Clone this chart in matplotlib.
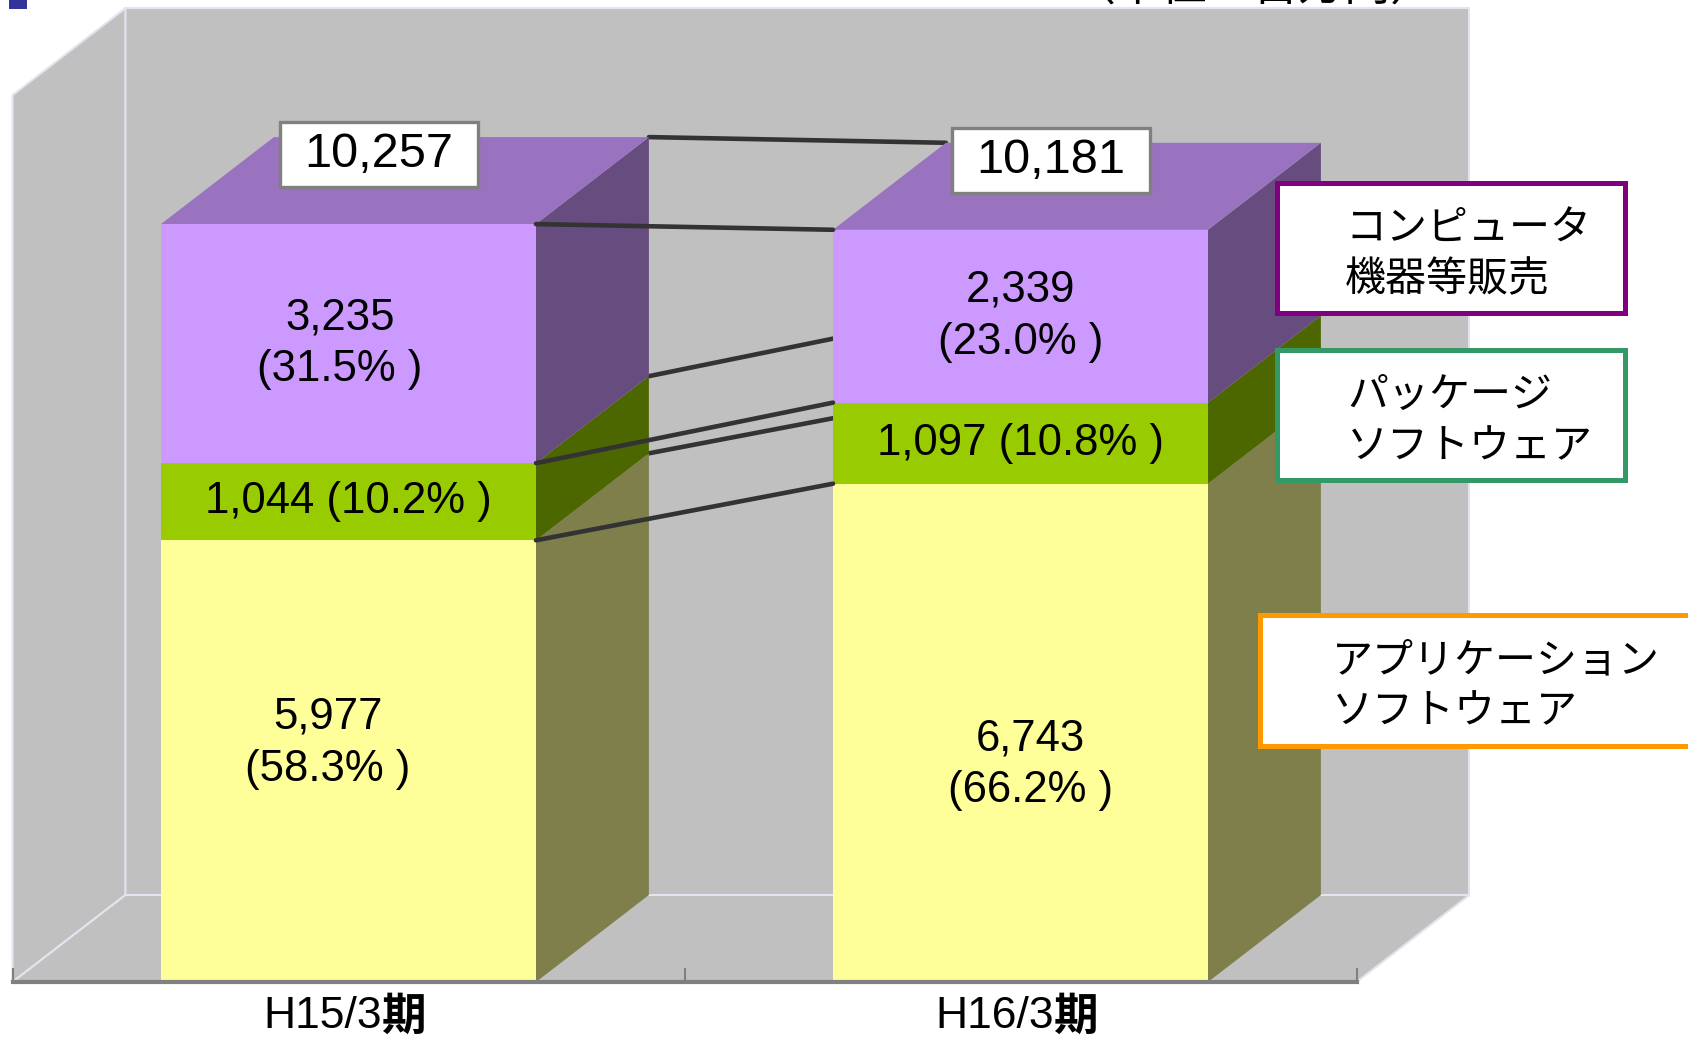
import numpy as np
import matplotlib.pyplot as plt
from matplotlib.patches import Polygon, Rectangle
from matplotlib.path import Path

# data (百万円)
periods = ['H15/3期', 'H16/3期']
series = ['アプリケーション\nソフトウェア', 'パッケージ\nソフトウェア', 'コンピュータ\n機器等販売']
app_sw = [5977, 6743]
pkg_sw = [1044, 1097]
hw_sales = [3235, 2339]
app_share = [58.3, 66.2]
pkg_share = [10.2, 10.8]
hw_share = [31.5, 23.0]
totals = [10257, 10181]
y_max = 12000
unit_note = '（単位：百万円）'

# layout of the fake 3d box (pixels of the 1688x1038 canvas)
W, H = 1688, 1038
PX_CAT, X0_PX = 672.0, 348.5     # px per category, px of first category
PX_VAL, Y0_PX = 0.0739, 982.0    # px per value unit, px row of value 0
BAR_W = 0.558
DX, DY = 0.168, 1177             # depth offset in data units

front_c = ['#FFFF99', '#99CC00', '#CC99FF']
side_c = ['#7F7F4C', '#4C6600', '#664C7F']
top_c = ['#BFBF73', '#739900', '#9973BF']
legend_edge = ['#FF9900', '#339966', '#800080']
wall_c = '#C0C0C0'
edge_c = '#E4E4F0'
line_c = '#333333'

num_font = ['Liberation Sans', 'Noto Sans CJK JP']
jp_font = ['Noto Sans CJK JP', 'DejaVu Sans']

fig = plt.figure(figsize=(W / 100, H / 100), dpi=100)
ax = fig.add_axes([0, 0, 1, 1])
ax.set_xlim(-X0_PX / PX_CAT, (W - X0_PX) / PX_CAT)
ax.set_ylim((Y0_PX - H) / PX_VAL, Y0_PX / PX_VAL)
ax.axis('off')


def P(x, v, z):
    return (x + z * DX, v + z * DY)


def quad(pts, color, z, ec='none', lw=0):
    ax.add_patch(Polygon(pts, closed=True, facecolor=color, edgecolor=ec, lw=lw, zorder=z))


def wide_box(x0, y0, width, height, mutation_size):
    # box with more room left/right than top/bottom
    px, py = 0.5 * mutation_size, 0.2 * mutation_size
    x0, y0 = x0 - px, y0 - py
    x1, y1 = x0 + width + 2 * px, y0 + height + 2 * py
    return Path([(x0, y0), (x1, y0), (x1, y1), (x0, y1), (x0, y0)], closed=True)


# walls and floor
x_lo, x_hi = -0.5, len(periods) - 0.5
quad([P(x_lo, 0, 1), P(x_hi, 0, 1), P(x_hi, y_max, 1), P(x_lo, y_max, 1)], wall_c, 1, edge_c, 1.5)
quad([P(x_lo, 0, 0), P(x_lo, y_max, 0), P(x_lo, y_max, 1), P(x_lo, 0, 1)], wall_c, 1, edge_c, 1.5)
quad([P(x_lo, 0, 0), P(x_hi, 0, 0), P(x_hi, 0, 1), P(x_lo, 0, 1)], wall_c, 1, edge_c, 1.5)

stacks = [app_sw, pkg_sw, hw_sales]
shares = [app_share, pkg_share, hw_share]
cum = np.cumsum(np.array(stacks), axis=0)
base = cum - np.array(stacks)
xs = np.arange(len(periods))

# series lines at the back (hidden by the second bar)
for k in range(len(stacks)):
    a = P(xs[0] + BAR_W / 2, cum[k][0], 1)
    b = P(xs[1] - BAR_W / 2, cum[k][1], 1)
    ax.plot([a[0], b[0]], [a[1], b[1]], color=line_c, lw=3.3, solid_capstyle='round', zorder=2)

# bars
for i, x in enumerate(xs):
    l, r = x - BAR_W / 2, x + BAR_W / 2
    for k in range(len(stacks)):
        y0, y1 = base[k][i], cum[k][i]
        quad([P(r, y0, 0), P(r, y1, 0), P(r, y1, 1), P(r, y0, 1)], side_c[k], 3)
        if k == len(stacks) - 1:
            quad([P(l, y1, 0), P(r, y1, 0), P(r, y1, 1), P(l, y1, 1)], top_c[k], 3)
        ax.add_patch(Rectangle((l, y0), BAR_W, y1 - y0, facecolor=front_c[k], edgecolor='none', zorder=3))

# series lines in front
for k in range(len(stacks)):
    ax.plot([xs[0] + BAR_W / 2, xs[1] - BAR_W / 2], [cum[k][0], cum[k][1]],
            color=line_c, lw=3.3, solid_capstyle='round', zorder=5)

# category axis
ax.plot([x_lo, x_hi], [0, 0], color='#808080', lw=3, zorder=5)
for t in np.arange(x_lo, x_hi + 0.01, 1.0):
    ax.plot([t, t], [0, 13 / PX_VAL], color='#808080', lw=1.5, zorder=5)
for i, x in enumerate(xs):
    ax.annotate(periods[i][:-1], (x, 0), xytext=(24, -25), textcoords='offset points',
                ha='right', va='center', fontsize=32, family=num_font, zorder=6)
    ax.annotate(periods[i][-1], (x, 0), xytext=(24, -25), textcoords='offset points',
                ha='left', va='center', fontsize=32, family=jp_font, fontweight='bold', zorder=6)

# segment labels
nudge = {(0, 0): (-15, 13), (0, 1): (7, -23), (2, 0): (-6, 0)}
for k in range(len(stacks)):
    for i, x in enumerate(xs):
        v, s = stacks[k][i], shares[k][i]
        sep = ' ' if k == 1 else '\n'
        txt = f'{v:,}{sep}({s:.1f}% )'
        ax.annotate(txt, (x, (base[k][i] + cum[k][i]) / 2), xytext=nudge.get((k, i), (0, 0)),
                    textcoords='offset points', ha='center', va='center', fontsize=31.5,
                    family=num_font, linespacing=1.35, zorder=6)

# totals
for i, x in enumerate(xs):
    ax.annotate(f'{totals[i]:,}', (x, cum[-1][i]), xytext=(22, 50), textcoords='offset points',
                ha='center', va='center', fontsize=35, family=num_font, zorder=7,
                bbox=dict(boxstyle=wide_box, facecolor='white', edgecolor='#808080', lw=2.4))

# overlay in pixel coordinates for the callout boxes
ov = fig.add_axes([0, 0, 1, 1])
ov.set_xlim(0, W)
ov.set_ylim(H, 0)
ov.axis('off')
ov.patch.set_alpha(0)

boxes = [(1260, 615, 460, 131, 1332), (1277, 350, 348, 130, 1347), (1277, 183, 348, 130, 1345)]
for k, (bx, by, bw, bh, tx) in enumerate(boxes):
    ov.add_patch(Rectangle((bx, by), bw, bh, facecolor='white', edgecolor=legend_edge[k], lw=3.6))
    ov.text(tx, by + bh / 2 + 6, series[k], ha='left', va='center', fontsize=29.5,
            family=jp_font, linespacing=1.3)

ov.add_patch(Rectangle((9, 0), 18, 9, facecolor='#333399', edgecolor='none'))
ov.text(1253, 0, unit_note, ha='center', va='baseline', fontsize=33, family=jp_font)

fig.savefig('out.png', dpi=100)
